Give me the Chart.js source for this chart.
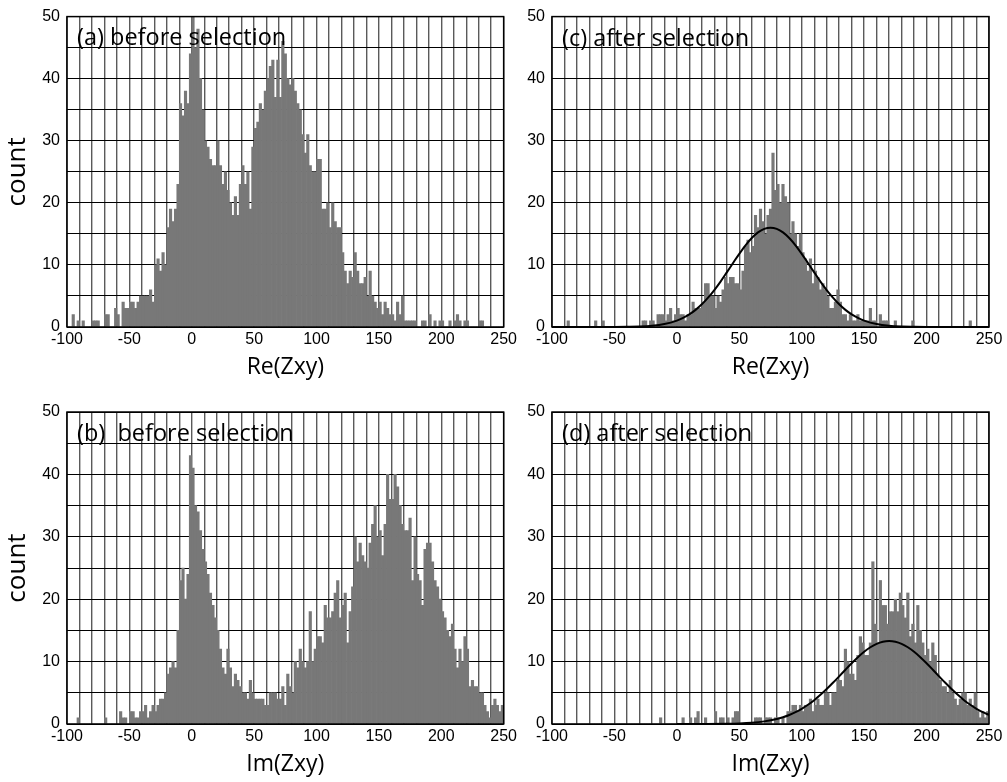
<!DOCTYPE html>
<html>
<head>
<meta charset="utf-8">
<script src="https://cdn.jsdelivr.net/npm/chart.js@4/dist/chart.umd.min.js"></script>
<style>
  body { margin: 0; background: #fff; }
  #wrap { position: relative; width: 1007px; height: 782px; }
  canvas { position: absolute; }
</style>
</head>
<body>
<div id="wrap">
  <canvas id="panelA" width="520" height="385" style="left:0;top:0"></canvas>
  <canvas id="panelC" width="487" height="385" style="left:520px;top:0"></canvas>
  <canvas id="panelB" width="520" height="397" style="left:0;top:385px"></canvas>
  <canvas id="panelD" width="487" height="397" style="left:520px;top:385px"></canvas>
</div>
<script>
// histogram bins: 2 units wide, starting at -100 (175 bins, 5 per grid cell)
const binStart = -100;
const binWidth = 2;

const xTickLabels = [-100, -50, 0, 50, 100, 150, 200, 250];
const yTickLabels = [0, 10, 20, 30, 40, 50];

// (a) Re(Zxy) before selection
const reBefore = [
  0, 0, 2, 0, 1,
  0, 1, 0, 0, 0,
  1, 1, 1, 0, 0,
  2, 2, 0, 0, 3,
  2, 0, 4, 3, 3,
  4, 4, 3, 4, 5,
  5, 5, 5, 6, 4,
  10, 11, 9, 12, 10,
  16, 19, 17, 19, 23,
  36, 34, 38, 36, 44,
  50, 45, 48, 40, 35,
  30, 29, 27, 26, 26,
  30, 26, 23, 25, 22,
  20, 18, 21, 18, 23,
  26, 23, 25, 19, 29,
  32, 33, 36, 35, 38,
  40, 42, 43, 37, 43,
  37, 46, 44, 40, 39,
  40, 38, 36, 35, 31,
  28, 31, 26, 25, 25,
  27, 27, 19, 19, 20,
  16, 20, 17, 16, 16,
  12, 9, 7, 9, 8,
  12, 9, 7, 7, 8,
  5, 9, 5, 4, 3,
  4, 2, 4, 3, 2,
  2, 1, 4, 2, 5,
  1, 1, 1, 1, 1,
  0, 0, 1, 1, 0,
  2, 0, 1, 0, 1,
  1, 0, 0, 1, 0,
  1, 2, 1, 0, 1,
  1, 0, 0, 0, 0,
  1, 1, 0, 0, 0,
  0, 0, 0, 0, 0
];

// (b) Im(Zxy) before selection
const imBefore = [
  0, 0, 0, 0, 1,
  0, 0, 0, 0, 0,
  0, 0, 0, 0, 0,
  1, 0, 0, 0, 0,
  0, 2, 1, 1, 0,
  2, 2, 1, 1, 2,
  2, 3, 1, 2, 3,
  2, 3, 4, 4, 5,
  8, 9, 10, 9, 15,
  23, 25, 20, 24, 43,
  41, 35, 34, 31, 28,
  26, 24, 21, 19, 17,
  15, 12, 9, 8, 12,
  9, 6, 8, 7, 6,
  5, 5, 4, 7, 5,
  4, 4, 4, 4, 3,
  3, 5, 5, 5, 4,
  4, 6, 3, 8, 6,
  5, 10, 9, 12, 10,
  9, 10, 18, 10, 12,
  14, 14, 13, 19, 17,
  17, 18, 21, 23, 17,
  19, 21, 13, 18, 22,
  30, 26, 29, 27, 26,
  25, 29, 32, 35, 30,
  31, 27, 32, 40, 36,
  36, 40, 38, 35, 32,
  31, 31, 33, 23, 30,
  24, 23, 19, 28, 29,
  29, 26, 23, 22, 20,
  18, 17, 15, 14, 16,
  12, 9, 12, 10, 14,
  12, 6, 7, 6, 6,
  5, 5, 3, 2, 1,
  3, 4, 3, 2, 3
];

// (c) Re(Zxy) after selection
const reAfter = [
  0, 0, 0, 0, 0,
  0, 1, 0, 0, 0,
  0, 0, 0, 0, 0,
  0, 0, 1, 0, 0,
  1, 0, 0, 0, 0,
  0, 0, 0, 0, 0,
  0, 0, 0, 0, 0,
  0, 1, 1, 0, 1,
  1, 0, 2, 2, 2,
  1, 2, 3, 1, 2,
  3, 2, 2, 1, 2,
  2, 4, 3, 3, 3,
  4, 7, 7, 5, 5,
  3, 5, 4, 6, 8,
  7, 8, 8, 7, 7,
  6, 9, 13, 14, 12,
  13, 18, 16, 19, 17,
  15, 18, 19, 28, 22,
  23, 20, 23, 21, 20,
  15, 17, 15, 13, 15,
  12, 11, 9, 11, 7,
  9, 8, 6, 7, 6,
  5, 3, 3, 4, 6,
  4, 2, 2, 1, 2,
  1, 1, 2, 1, 1,
  1, 1, 3, 1, 1,
  0, 2, 1, 1, 1,
  0, 0, 1, 0, 0,
  0, 0, 0, 0, 1,
  0, 0, 0, 0, 0,
  0, 0, 0, 0, 0,
  0, 0, 0, 0, 0,
  0, 0, 0, 0, 0,
  0, 0, 1, 0, 0,
  0, 0, 0, 0, 0
];

// (d) Im(Zxy) after selection
const imAfter = [
  0, 0, 0, 0, 0,
  0, 0, 0, 0, 0,
  0, 0, 0, 0, 0,
  0, 0, 0, 0, 0,
  0, 0, 0, 0, 0,
  0, 0, 0, 0, 0,
  0, 0, 0, 0, 0,
  0, 0, 0, 0, 0,
  0, 0, 0, 1, 0,
  0, 0, 0, 0, 0,
  0, 0, 1, 0, 0,
  1, 0, 1, 2, 0,
  0, 1, 0, 0, 0,
  2, 0, 1, 1, 0,
  1, 0, 1, 2, 2,
  0, 0, 0, 0, 0,
  0, 1, 1, 1, 0,
  1, 1, 1, 0, 1,
  1, 0, 1, 0, 2,
  2, 3, 3, 2, 3,
  2, 3, 3, 4, 2,
  3, 4, 3, 3, 5,
  5, 3, 5, 5, 7,
  7, 6, 12, 10, 8,
  8, 7, 11, 14, 13,
  11, 11, 13, 26, 16,
  13, 23, 19, 19, 16,
  18, 18, 20, 18, 21,
  19, 17, 21, 14, 16,
  13, 19, 15, 13, 11,
  12, 10, 13, 11, 8,
  7, 6, 6, 5, 7,
  5, 4, 3, 4, 5,
  5, 3, 4, 3, 5,
  2, 1, 2, 1, 2
];

// fitted curves
const reFitX = [-100, -50, -40, -30, -20, -10, 0, 5, 10, 15, 20, 25, 30, 35, 40, 45, 50, 55, 60, 65, 70, 75,
  80, 85, 90, 95, 100, 105, 110, 115, 120, 125, 130, 135, 140, 145, 150, 160, 170, 180, 190, 200, 250];
const reFitY = [0, 0.01, 0.03, 0.07, 0.19, 0.47, 1.03, 1.46, 2.03, 2.76, 3.65, 4.72, 5.95, 7.32, 8.8, 10.31, 11.79, 13.16, 14.33, 15.24, 15.81, 16,
  15.81, 15.24, 14.33, 13.16, 11.79, 10.31, 8.8, 7.32, 5.95, 4.72, 3.65, 2.76, 2.03, 1.46, 1.03, 0.47, 0.19, 0.07, 0.03, 0.01, 0];

const imFitX = [0, 20, 40, 50, 60, 70, 80, 85, 90, 95, 100, 105, 110, 115, 120, 125, 130, 135, 140, 145, 150, 155, 160, 165, 170,
  175, 180, 185, 190, 195, 200, 205, 210, 215, 220, 225, 230, 235, 240, 245, 250];
const imFitY = [0, 0.01, 0.04, 0.09, 0.2, 0.42, 0.8, 1.09, 1.45, 1.9, 2.44, 3.08, 3.82, 4.67, 5.6, 6.6, 7.64, 8.7, 9.74, 10.71, 11.58, 12.3, 12.85, 13.19, 13.3,
  13.19, 12.85, 12.3, 11.58, 10.71, 9.74, 8.7, 7.64, 6.6, 5.6, 4.67, 3.82, 3.08, 2.44, 1.9, 1.45];

Chart.defaults.font.family = "'Liberation Sans', Arial, sans-serif";
Chart.defaults.color = '#000';

const toBars = (counts) => counts.map((c, i) => ({ x: binStart + binWidth * (i + 0.5), y: c }));
const toCurve = (xs, ys) => xs.map((x, i) => ({ x: x, y: ys[i] }));

// panel label + black frame on top of everything
const framePlugin = {
  id: 'frame',
  afterDraw(chart, args, opts) {
    const { ctx, chartArea: a } = chart;
    ctx.save();
    ctx.strokeStyle = '#000';
    ctx.lineWidth = 1.5;
    ctx.strokeRect(a.left, a.top, a.right - a.left, a.bottom - a.top);
    ctx.font = "23.5px 'Open Sans'";
    ctx.fillStyle = '#000';
    ctx.textBaseline = 'alphabetic';
    ctx.fillText(opts.text, a.left + opts.dx, a.top + opts.dy);
    ctx.restore();
  }
};

const makePanel = (id, cfg) => {
  const datasets = [{
    type: 'bar',
    data: toBars(cfg.counts),
    backgroundColor: '#787878',
    borderWidth: 0,
    barPercentage: 1,
    categoryPercentage: 1,
    order: 2
  }];
  if (cfg.fit) {
    datasets.push({
      type: 'line',
      data: cfg.fit,
      borderColor: '#000',
      borderWidth: 2,
      pointRadius: 0,
      cubicInterpolationMode: 'monotone',
      order: 1
    });
  }

  return new Chart(document.getElementById(id), {
    type: 'bar',
    data: { datasets: datasets },
    plugins: [framePlugin],
    options: {
      responsive: false,
      animation: false,
      layout: { padding: { top: cfg.top, right: cfg.right, left: 0, bottom: 0 } },
      plugins: {
        legend: { display: false },
        tooltip: { enabled: false },
        frame: { text: cfg.label, dx: 10, dy: cfg.labelY }
      },
      scales: {
        x: {
          type: 'linear',
          min: -100,
          max: 250,
          offset: false,
          z: 1,
          ticks: {
            stepSize: 10,
            autoSkip: false,
            maxRotation: 0,
            padding: 3,
            font: { size: 16 },
            callback: (v) => xTickLabels.includes(Math.round(v)) ? String(Math.round(v)) : ''
          },
          grid: { color: '#5a5a5a', lineWidth: 1.4, drawTicks: false, offset: false },
          border: { display: false },
          title: {
            display: true,
            text: cfg.xTitle,
            font: { family: "'Open Sans'", size: 23 },
            padding: { top: 0, bottom: 4 }
          },
          afterFit: (s) => { s.height = cfg.xAxisH; }
        },
        y: {
          min: 0,
          max: 50,
          z: 1,
          ticks: {
            stepSize: 5,
            padding: 7,
            font: { size: 16 },
            callback: (v) => yTickLabels.includes(v) ? String(v) : ''
          },
          grid: { color: '#000', lineWidth: 1, drawTicks: false },
          border: { display: false },
          title: {
            display: cfg.yTitle,
            text: 'count',
            font: { family: "'Open Sans'", size: 26 },
            padding: { top: 2, bottom: 0 }
          },
          afterFit: (s) => { s.width = cfg.yAxisW; }
        }
      }
    }
  });
};

makePanel('panelA', {
  counts: reBefore, label: '(a) before selection', labelY: 28, xTitle: 'Re(Zxy)',
  yTitle: true, yAxisW: 67, xAxisH: 58, top: 15, right: 16
});
makePanel('panelC', {
  counts: reAfter, fit: toCurve(reFitX, reFitY), label: '(c) after selection', labelY: 29, xTitle: 'Re(Zxy)',
  yTitle: false, yAxisW: 32, xAxisH: 58, top: 15, right: 18
});
makePanel('panelB', {
  counts: imBefore, label: '(b)  before selection', labelY: 29, xTitle: 'Im(Zxy)',
  yTitle: true, yAxisW: 67, xAxisH: 58, top: 27, right: 16
});
makePanel('panelD', {
  counts: imAfter, fit: toCurve(imFitX, imFitY), label: '(d) after selection', labelY: 29, xTitle: 'Im(Zxy)',
  yTitle: false, yAxisW: 32, xAxisH: 58, top: 27, right: 18
});
</script>
</body>
</html>
